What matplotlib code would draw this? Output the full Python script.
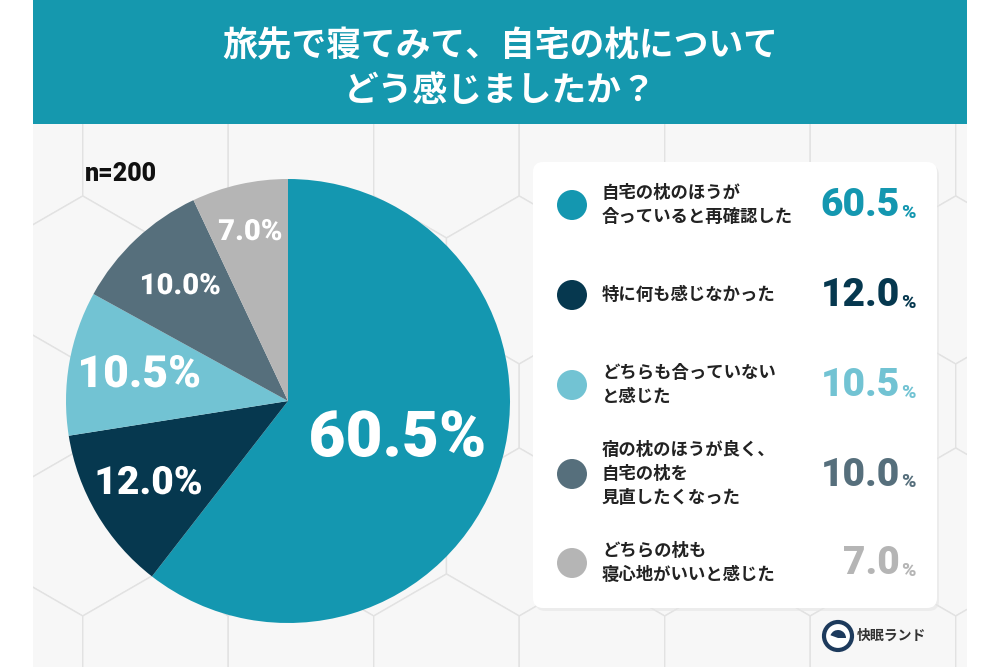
import matplotlib.pyplot as plt
from matplotlib.patches import Rectangle, FancyBboxPatch, RegularPolygon, Circle, Wedge
import matplotlib.patheffects as pe
import numpy as np

plt.rcParams['font.family'] = ['Noto Sans CJK JP', 'DejaVu Sans']

title_lines = ['旅先で寝てみて、自宅の枕について', 'どう感じましたか？']
labels = ['自宅の枕のほうが\n合っていると再確認した',
          '特に何も感じなかった',
          'どちらも合っていない\nと感じた',
          '宿の枕のほうが良く、\n自宅の枕を\n見直したくなった',
          'どちらの枕も\n寝心地がいいと感じた']
values = [60.5, 12.0, 10.5, 10.0, 7.0]
colors = ['#1497b0', '#06384f', '#72c3d3', '#566f7c', '#b5b5b5']
n_text = 'n=200'

num_font = ['Roboto', 'Noto Sans CJK JP']

fig = plt.figure(figsize=(10, 6.67), dpi=100)
bg = fig.add_axes([0, 0, 1, 1])
bg.set_xlim(0, 1000)
bg.set_ylim(667, 0)
bg.axis('off')
fig.patch.set_facecolor('white')

# background panel with hex tiles
panel = Rectangle((33, 124), 934, 543, facecolor='#f1f1f1', edgecolor='none', zorder=0)
bg.add_patch(panel)
R = 84
w = np.sqrt(3) * R
for row in range(-1, 7):
    for col in range(-1, 9):
        cx = col * w + (w / 2 if row % 2 else 0) + 10
        cy = 124 + row * 1.5 * R + 30
        h = RegularPolygon((cx, cy), 6, radius=R, orientation=0,
                           facecolor='#f7f7f7', edgecolor='#e2e2e2', lw=1.0, zorder=0.5)
        bg.add_patch(h)
        h.set_clip_path(panel)

# header
bg.add_patch(Rectangle((33, 0), 934, 124, facecolor='#1598ae', edgecolor='none', zorder=1))
bg.text(500, 46, title_lines[0], ha='center', va='center', color='white',
        fontsize=25, fontweight='bold', zorder=2)
bg.text(500, 91, title_lines[1], ha='center', va='center', color='white',
        fontsize=25, fontweight='bold', zorder=2)

bg.text(85, 174, n_text, ha='left', va='center', fontsize=18, fontweight='black',
        color='#111111', family=num_font, zorder=2)

# legend box
bg.add_patch(FancyBboxPatch((535, 165), 404, 446, boxstyle='round,pad=0,rounding_size=10',
                            facecolor='#e6e6e6', edgecolor='none', zorder=1, alpha=0.6))
bg.add_patch(FancyBboxPatch((533, 162), 404, 446, boxstyle='round,pad=0,rounding_size=10',
                            facecolor='white', edgecolor='none', zorder=1.5))

item_y = [205, 295, 385, 474, 563]
for lab, val, col, y in zip(labels, values, colors, item_y):
    bg.add_patch(Circle((572, y), 15, facecolor=col, edgecolor='none', zorder=2))
    bg.text(602, y, lab, ha='left', va='center', fontsize=12.5, fontweight='bold',
            color='#222222', linespacing=1.45, zorder=2)
    bg.text(900, y + 1, f'{val:.1f}', ha='right', va='center', fontsize=28,
            fontweight='black', color=col, family=num_font, zorder=2)
    bg.text(901, y + 8, '%', ha='left', va='center', fontsize=14,
            fontweight='black', color=col, family=num_font, zorder=2)

# logo
bg.add_patch(Circle((838, 636), 14, facecolor='white', edgecolor='#1d3a5c', lw=3, zorder=2))
bg.add_patch(Wedge((838, 638), 8, 200, 360, facecolor='#1d3a5c', edgecolor='none', zorder=2))
bg.text(857, 636, '快眠ランド', ha='left', va='center', fontsize=10, fontweight='bold',
        color='#333333', zorder=2)

# pie
cx, cy, r = 288, 401, 222
pax = fig.add_axes([(cx - r) / 1000, (667 - cy - r) / 667, 2 * r / 1000, 2 * r / 667])
pax.set_zorder(3)
wedges, _ = pax.pie(values, colors=colors, startangle=90, counterclock=False,
                    radius=1, wedgeprops=dict(linewidth=0))
pax.set_xlim(-1, 1)
pax.set_ylim(-1, 1)
pax.set_aspect('equal')
pax.axis('off')

label_r = [0.52, 0.73, 0.68, 0.71, 0.78]
label_size = [46, 28, 32, 21, 21]
for wd, val, lr, fs in zip(wedges, values, label_r, label_size):
    ang = np.deg2rad((wd.theta1 + wd.theta2) / 2)
    pax.text(lr * np.cos(ang), lr * np.sin(ang), f'{val:.1f}%', ha='center', va='center',
             fontsize=fs, fontweight='black', color='white', family=num_font,
             path_effects=[pe.SimpleLineShadow(offset=(1, -1), alpha=0.2), pe.Normal()])

fig.savefig('out.png', dpi=100)
